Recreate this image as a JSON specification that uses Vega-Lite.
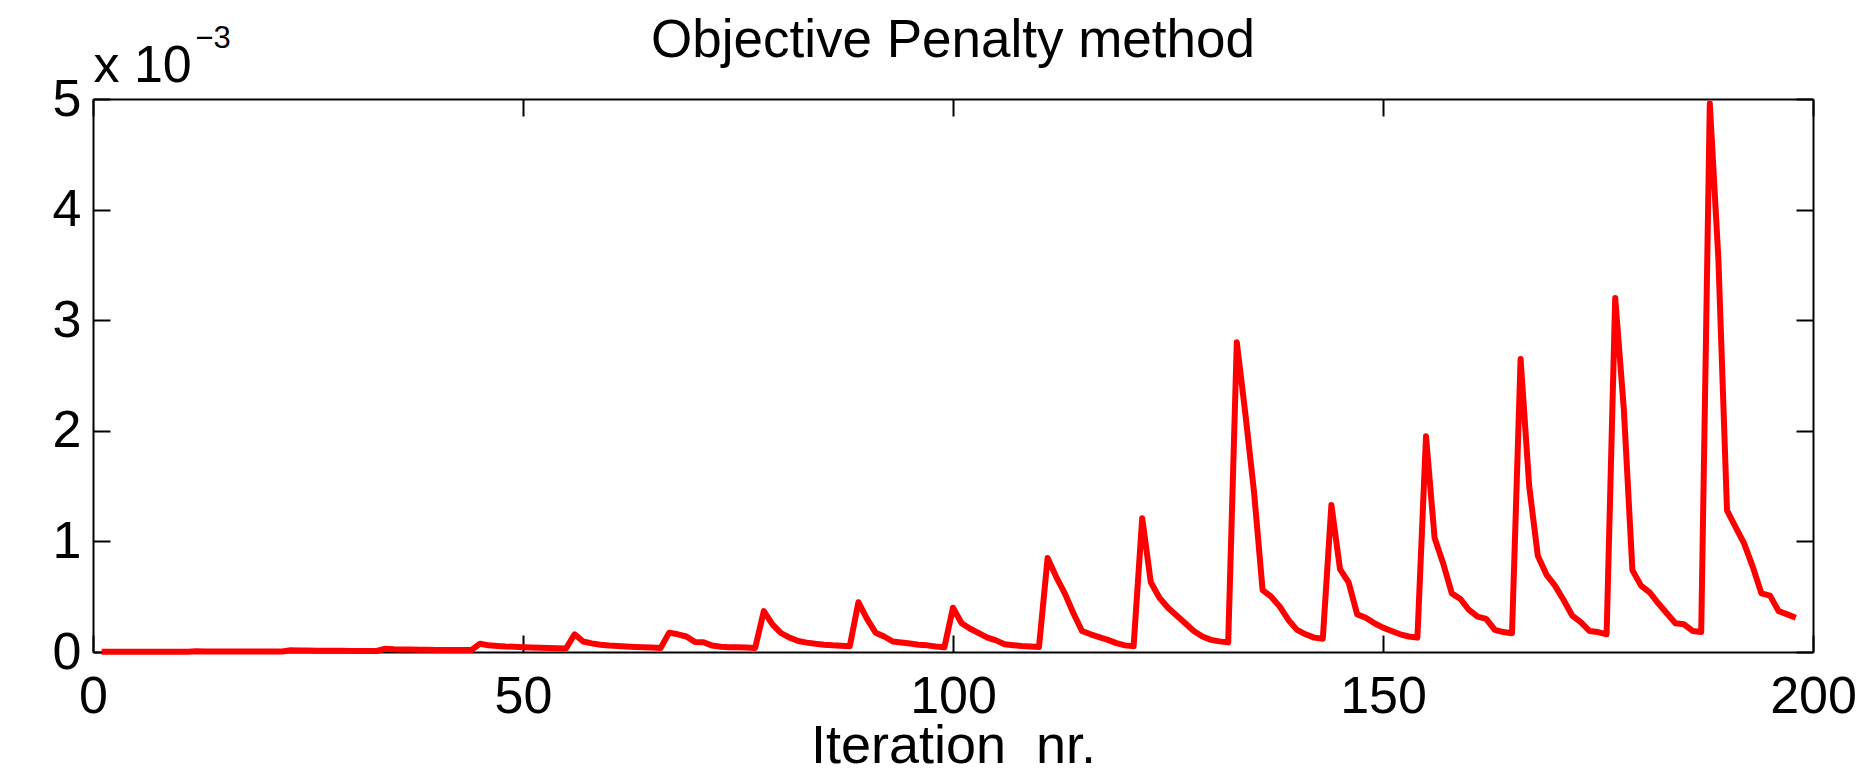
{
  "$schema": "https://vega.github.io/schema/vega-lite/v6.json",
  "width": 1720,
  "height": 553,
  "autosize": {"type": "none"},
  "padding": {"left": 93, "top": 99, "right": 57, "bottom": 128},
  "background": "white",
  "config": {
    "view": {"stroke": null},
    "axis": {
      "domainColor": "black",
      "domainWidth": 2,
      "tickColor": "black",
      "tickWidth": 2,
      "tickSize": -17,
      "grid": false,
      "labelFont": "Liberation Sans",
      "labelFontSize": 52,
      "labelColor": "black",
      "titleFont": "Liberation Sans",
      "titleColor": "black",
      "titleFontWeight": "normal"
    }
  },
  "datasets": {
    "penalty": [
      {"it": 1, "v": 0.003}, {"it": 2, "v": 0.002}, {"it": 3, "v": 0.002}, {"it": 4, "v": 0.002}, {"it": 5, "v": 0.002},
      {"it": 6, "v": 0.002}, {"it": 7, "v": 0.002}, {"it": 8, "v": 0.002}, {"it": 9, "v": 0.002}, {"it": 10, "v": 0.002},
      {"it": 11, "v": 0.002}, {"it": 12, "v": 0.006}, {"it": 13, "v": 0.005}, {"it": 14, "v": 0.004}, {"it": 15, "v": 0.004},
      {"it": 16, "v": 0.004}, {"it": 17, "v": 0.004}, {"it": 18, "v": 0.004}, {"it": 19, "v": 0.004}, {"it": 20, "v": 0.004},
      {"it": 21, "v": 0.004}, {"it": 22, "v": 0.004}, {"it": 23, "v": 0.016}, {"it": 24, "v": 0.014}, {"it": 25, "v": 0.013},
      {"it": 26, "v": 0.012}, {"it": 27, "v": 0.012}, {"it": 28, "v": 0.011}, {"it": 29, "v": 0.011}, {"it": 30, "v": 0.010},
      {"it": 31, "v": 0.010}, {"it": 32, "v": 0.010}, {"it": 33, "v": 0.009}, {"it": 34, "v": 0.030}, {"it": 35, "v": 0.025},
      {"it": 36, "v": 0.023}, {"it": 37, "v": 0.022}, {"it": 38, "v": 0.021}, {"it": 39, "v": 0.020}, {"it": 40, "v": 0.019},
      {"it": 41, "v": 0.018}, {"it": 42, "v": 0.018}, {"it": 43, "v": 0.017}, {"it": 44, "v": 0.017}, {"it": 45, "v": 0.075},
      {"it": 46, "v": 0.060}, {"it": 47, "v": 0.055}, {"it": 48, "v": 0.050}, {"it": 49, "v": 0.047}, {"it": 50, "v": 0.044},
      {"it": 51, "v": 0.041}, {"it": 52, "v": 0.038}, {"it": 53, "v": 0.036}, {"it": 54, "v": 0.034}, {"it": 55, "v": 0.032},
      {"it": 56, "v": 0.160}, {"it": 57, "v": 0.095}, {"it": 58, "v": 0.078}, {"it": 59, "v": 0.065}, {"it": 60, "v": 0.058},
      {"it": 61, "v": 0.054}, {"it": 62, "v": 0.050}, {"it": 63, "v": 0.046}, {"it": 64, "v": 0.043}, {"it": 65, "v": 0.040},
      {"it": 66, "v": 0.037}, {"it": 67, "v": 0.175}, {"it": 68, "v": 0.160}, {"it": 69, "v": 0.140}, {"it": 70, "v": 0.090},
      {"it": 71, "v": 0.088}, {"it": 72, "v": 0.058}, {"it": 73, "v": 0.048}, {"it": 74, "v": 0.044}, {"it": 75, "v": 0.042},
      {"it": 76, "v": 0.040}, {"it": 77, "v": 0.037}, {"it": 78, "v": 0.370}, {"it": 79, "v": 0.250}, {"it": 80, "v": 0.170},
      {"it": 81, "v": 0.130}, {"it": 82, "v": 0.100}, {"it": 83, "v": 0.085}, {"it": 84, "v": 0.074}, {"it": 85, "v": 0.066},
      {"it": 86, "v": 0.060}, {"it": 87, "v": 0.056}, {"it": 88, "v": 0.053}, {"it": 89, "v": 0.450}, {"it": 90, "v": 0.300},
      {"it": 91, "v": 0.175}, {"it": 92, "v": 0.140}, {"it": 93, "v": 0.095}, {"it": 94, "v": 0.085}, {"it": 95, "v": 0.076},
      {"it": 96, "v": 0.065}, {"it": 97, "v": 0.060}, {"it": 98, "v": 0.050}, {"it": 99, "v": 0.043}, {"it": 100, "v": 0.400},
      {"it": 101, "v": 0.260}, {"it": 102, "v": 0.210}, {"it": 103, "v": 0.170}, {"it": 104, "v": 0.130}, {"it": 105, "v": 0.105},
      {"it": 106, "v": 0.070}, {"it": 107, "v": 0.062}, {"it": 108, "v": 0.055}, {"it": 109, "v": 0.050}, {"it": 110, "v": 0.045},
      {"it": 111, "v": 0.850}, {"it": 112, "v": 0.680}, {"it": 113, "v": 0.530}, {"it": 114, "v": 0.350}, {"it": 115, "v": 0.190},
      {"it": 116, "v": 0.160}, {"it": 117, "v": 0.135}, {"it": 118, "v": 0.110}, {"it": 119, "v": 0.080}, {"it": 120, "v": 0.060},
      {"it": 121, "v": 0.052}, {"it": 122, "v": 1.210}, {"it": 123, "v": 0.630}, {"it": 124, "v": 0.490}, {"it": 125, "v": 0.400},
      {"it": 126, "v": 0.330}, {"it": 127, "v": 0.260}, {"it": 128, "v": 0.190}, {"it": 129, "v": 0.140}, {"it": 130, "v": 0.110},
      {"it": 131, "v": 0.096}, {"it": 132, "v": 0.087}, {"it": 133, "v": 2.800}, {"it": 134, "v": 2.150}, {"it": 135, "v": 1.450},
      {"it": 136, "v": 0.560}, {"it": 137, "v": 0.500}, {"it": 138, "v": 0.410}, {"it": 139, "v": 0.290}, {"it": 140, "v": 0.200},
      {"it": 141, "v": 0.160}, {"it": 142, "v": 0.130}, {"it": 143, "v": 0.120}, {"it": 144, "v": 1.330}, {"it": 145, "v": 0.750},
      {"it": 146, "v": 0.630}, {"it": 147, "v": 0.340}, {"it": 148, "v": 0.310}, {"it": 149, "v": 0.260}, {"it": 150, "v": 0.220},
      {"it": 151, "v": 0.190}, {"it": 152, "v": 0.160}, {"it": 153, "v": 0.140}, {"it": 154, "v": 0.130}, {"it": 155, "v": 1.950},
      {"it": 156, "v": 1.030}, {"it": 157, "v": 0.800}, {"it": 158, "v": 0.530}, {"it": 159, "v": 0.480}, {"it": 160, "v": 0.380},
      {"it": 161, "v": 0.320}, {"it": 162, "v": 0.300}, {"it": 163, "v": 0.200}, {"it": 164, "v": 0.180}, {"it": 165, "v": 0.170},
      {"it": 166, "v": 2.650}, {"it": 167, "v": 1.500}, {"it": 168, "v": 0.870}, {"it": 169, "v": 0.700}, {"it": 170, "v": 0.600},
      {"it": 171, "v": 0.470}, {"it": 172, "v": 0.330}, {"it": 173, "v": 0.270}, {"it": 174, "v": 0.190}, {"it": 175, "v": 0.180},
      {"it": 176, "v": 0.160}, {"it": 177, "v": 3.200}, {"it": 178, "v": 2.200}, {"it": 179, "v": 0.740}, {"it": 180, "v": 0.600},
      {"it": 181, "v": 0.540}, {"it": 182, "v": 0.440}, {"it": 183, "v": 0.350}, {"it": 184, "v": 0.260}, {"it": 185, "v": 0.250},
      {"it": 186, "v": 0.190}, {"it": 187, "v": 0.180}, {"it": 188, "v": 4.960}, {"it": 189, "v": 3.550}, {"it": 190, "v": 1.280},
      {"it": 191, "v": 1.130}, {"it": 192, "v": 0.980}, {"it": 193, "v": 0.770}, {"it": 194, "v": 0.530}, {"it": 195, "v": 0.510},
      {"it": 196, "v": 0.370}, {"it": 197, "v": 0.340}, {"it": 198, "v": 0.310}
    ],
    "labels": [
      {"label": "Objective Penalty method"},
      {"label": "x 10"},
      {"label": "\u22123"}
    ]
  },
  "resolve": {"scale": {"x": "independent", "y": "independent"}, "axis": {"x": "independent", "y": "independent"}},
  "layer": [
    {
      "data": {"name": "penalty"},
      "mark": {"type": "line", "color": "#ff0000", "strokeWidth": 6, "strokeJoin": "round", "strokeCap": "butt", "clip": false},
      "encoding": {
        "x": {
          "field": "it", "type": "quantitative",
          "scale": {"domain": [0, 200], "nice": false, "zero": false},
          "axis": {
            "orient": "bottom", "values": [0, 50, 100, 150, 200], "format": "d",
            "labelPadding": 36, "labelBaseline": "top", "labelFlush": false, "labelOverlap": false,
            "title": "Iteration\u00a0\u00a0nr.", "titleFontSize": 54, "titleBaseline": "alphabetic",
            "titleY": 110, "titleX": 860, "titleAnchor": "middle", "titleAlign": "center"
          }
        },
        "y": {
          "field": "v", "type": "quantitative",
          "scale": {"domain": [0, 5], "nice": false, "zero": true},
          "axis": {
            "orient": "left", "values": [0, 1, 2, 3, 4, 5], "format": "d",
            "labelPadding": 29, "labelFlush": false, "labelOverlap": false, "labelBaseline": "middle",
            "title": null
          }
        }
      }
    },
    {
      "data": {"name": "labels"},
      "transform": [{"filter": "datum.label === 'x 10'"}],
      "mark": {"type": "text", "font": "Liberation Sans", "fontSize": 52, "align": "left", "baseline": "alphabetic", "color": "black", "clip": false},
      "encoding": {
        "text": {"field": "label"},
        "x": {
          "datum": 0.05, "type": "quantitative",
          "scale": {"domain": [0, 200], "nice": false, "zero": false},
          "axis": {"orient": "top", "values": [0, 50, 100, 150, 200], "labels": false, "title": null}
        },
        "y": {
          "datum": 5.154, "type": "quantitative",
          "scale": {"domain": [0, 5], "nice": false, "zero": true},
          "axis": {"orient": "right", "values": [0, 1, 2, 3, 4, 5], "labels": false, "title": null}
        }
      }
    },
    {
      "data": {"name": "labels"},
      "transform": [{"filter": "datum.label === '\u22123'"}],
      "mark": {"type": "text", "font": "Liberation Sans", "fontSize": 31, "align": "left", "baseline": "alphabetic", "color": "black", "clip": false},
      "encoding": {
        "text": {"field": "label"},
        "x": {"datum": 11.9, "type": "quantitative", "scale": {"domain": [0, 200], "nice": false, "zero": false}, "axis": null},
        "y": {"datum": 5.461, "type": "quantitative", "scale": {"domain": [0, 5], "nice": false, "zero": true}, "axis": null}
      }
    },
    {
      "data": {"name": "labels"},
      "transform": [{"filter": "datum.label === 'Objective Penalty method'"}],
      "mark": {"type": "text", "font": "Liberation Sans", "fontSize": 53, "align": "center", "baseline": "alphabetic", "color": "black", "clip": false},
      "encoding": {
        "text": {"field": "label"},
        "x": {"datum": 100, "type": "quantitative", "scale": {"domain": [0, 200], "nice": false, "zero": false}, "axis": null},
        "y": {"datum": 5.38, "type": "quantitative", "scale": {"domain": [0, 5], "nice": false, "zero": true}, "axis": null}
      }
    }
  ]
}
